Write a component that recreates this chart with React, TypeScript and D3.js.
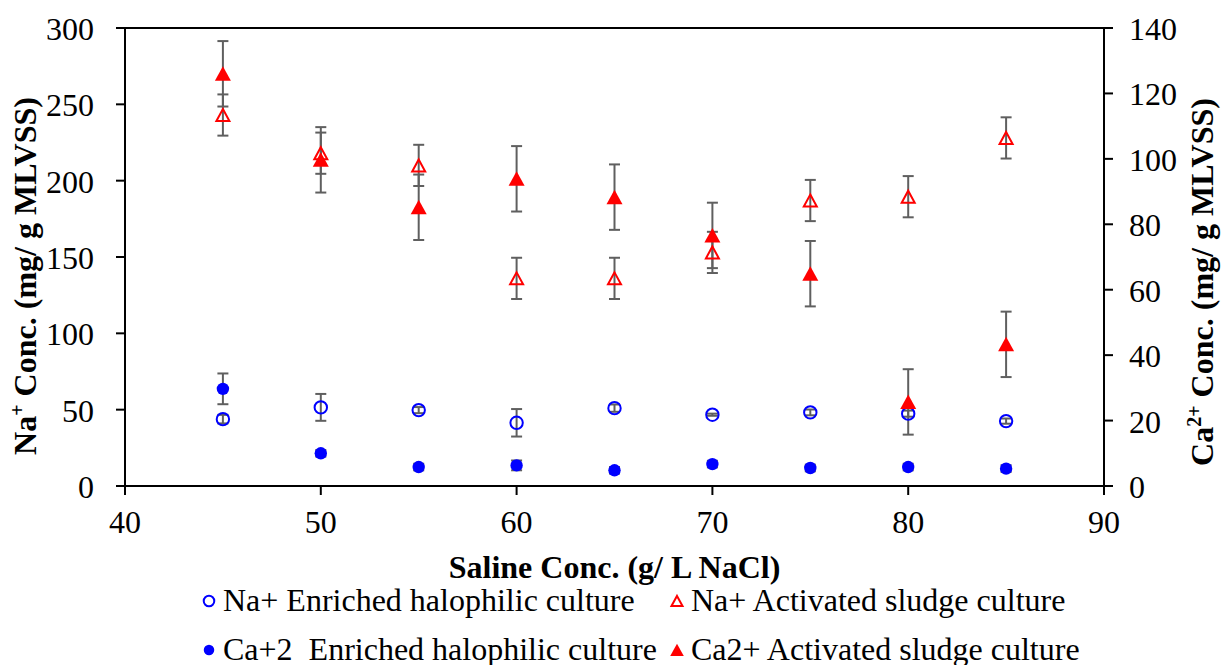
import React from "react";
import * as d3 from "d3";

const saline = [45, 50, 55, 60, 65, 70, 75, 80, 85];
const naEnriched = [43.8, 51.5, 49.7, 41.4, 51, 46.7, 48.2, 47.4, 42.5];
const naEnrichedErr = [2.8, 8.8, 2, 9, 2.4, 0.7, 1.9, 2, 1.7];
const naSludge = [243, 218, 210, 136, 136, 153, 187, 189.5, 228];
const naSludgeErr = [13.5, 13.5, 13.5, 13.5, 13.5, 13.5, 13.5, 13.5, 13.5];
const caEnriched = [29.7, 10, 5.8, 6.3, 4.8, 6.7, 5.5, 5.8, 5.3];
const caEnrichedErr = [4.7, 1, 1, 1.5, 1, 1, 1, 1, 1];
const caSludge = [126, 99.7, 85.2, 93.9, 88.3, 76.6, 64.9, 25.7, 43.3];
const caSludgeErr = [10, 10, 10, 10, 10, 10, 10, 10, 10];

const xTicks = [40, 50, 60, 70, 80, 90];
const yLeftTicks = [0, 50, 100, 150, 200, 250, 300];
const yRightTicks = [0, 20, 40, 60, 80, 100, 120, 140];

const legendItems = [
  { label: "Na+ Enriched halophilic culture", shape: "circle", filled: false, color: "#0000FF", col: 0, row: 0 },
  { label: "Na+ Activated sludge culture", shape: "triangle", filled: false, color: "#FF0000", col: 1, row: 0 },
  { label: "Ca+2  Enriched halophilic culture", shape: "circle", filled: true, color: "#0000FF", col: 0, row: 1 },
  { label: "Ca2+ Activated sludge culture", shape: "triangle", filled: true, color: "#FF0000", col: 1, row: 1 },
];

const W = 1223;
const H = 665;
const L = 125;
const R = 1104;
const T = 28;
const B = 486;
const FONT = "'Times New Roman', 'Liberation Serif', serif";
const ERR = "#5f5f5f";

const x = d3.scaleLinear().domain([40, 90]).range([L, R]);
const yL = d3.scaleLinear().domain([0, 300]).range([B, T]);
const yR = d3.scaleLinear().domain([0, 140]).range([B, T]);

function Marker({ shape, filled, color, cx, cy, s = 1 }: any) {
  if (shape === "circle") {
    return filled ? (
      <circle cx={cx} cy={cy} r={6.2 * s} fill={color} />
    ) : (
      <circle cx={cx} cy={cy} r={6.2 * s} fill="none" stroke={color} strokeWidth={2} />
    );
  }
  const sym = filled
    ? `M${cx},${cy - 7.5 * s}L${cx + 8 * s},${cy + 7 * s}L${cx - 8 * s},${cy + 7 * s}Z`
    : `M${cx},${cy - 6 * s}L${cx + 6.5 * s},${cy + 6 * s}L${cx - 6.5 * s},${cy + 6 * s}Z`;
  return filled ? (
    <path d={sym} fill={color} />
  ) : (
    <path d={sym} fill="none" stroke={color} strokeWidth={2} strokeLinejoin="miter" />
  );
}

export default function App() {
  const series = [
    { vals: naEnriched, errs: naEnrichedErr, y: yL, shape: "circle", filled: false, color: "#0000FF" },
    { vals: naSludge, errs: naSludgeErr, y: yL, shape: "triangle", filled: false, color: "#FF0000" },
    { vals: caEnriched, errs: caEnrichedErr, y: yR, shape: "circle", filled: true, color: "#0000FF" },
    { vals: caSludge, errs: caSludgeErr, y: yR, shape: "triangle", filled: true, color: "#FF0000" },
  ];

  return (
    <svg
      width={W}
      height={H}
      style={{ position: "absolute", left: 0, top: 0, background: "#fff" }}
      fontFamily={FONT}
    >
      <rect x={0} y={0} width={W} height={H} fill="#fff" />
      <rect x={L} y={T} width={R - L} height={B - T} fill="none" stroke="#000" strokeWidth={2} />

      {xTicks.map((t) => (
        <g key={"x" + t}>
          <line x1={x(t)} x2={x(t)} y1={B} y2={B + 9} stroke="#000" strokeWidth={2} />
          <text x={x(t)} y={B + 47} fontSize={32} textAnchor="middle" fill="#000">
            {t}
          </text>
        </g>
      ))}
      {yLeftTicks.map((t) => (
        <g key={"yl" + t}>
          <line x1={L - 9} x2={L} y1={yL(t)} y2={yL(t)} stroke="#000" strokeWidth={2} />
          <text x={94} y={yL(t) + 12} fontSize={32} textAnchor="end" fill="#000">
            {t}
          </text>
        </g>
      ))}
      {yRightTicks.map((t) => (
        <g key={"yr" + t}>
          <line x1={R} x2={R + 9} y1={yR(t)} y2={yR(t)} stroke="#000" strokeWidth={2} />
          <text x={1129} y={yR(t) + 12} fontSize={32} textAnchor="start" fill="#000">
            {t}
          </text>
        </g>
      ))}

      <text x={(L + R) / 2} y={578} fontSize={32} fontWeight="bold" textAnchor="middle" fill="#000">
        Saline Conc. (g/ L NaCl)
      </text>
      <text
        transform={`translate(36,276) rotate(-90)`}
        fontSize={32}
        fontWeight="bold"
        textAnchor="middle"
        fill="#000"
      >
        Na<tspan fontSize={20} dy={-12}>+</tspan>
        <tspan dy={12}> Conc. (mg/ g MLVSS)</tspan>
      </text>
      <text
        transform={`translate(1213,282) rotate(-90)`}
        fontSize={32}
        fontWeight="bold"
        textAnchor="middle"
        fill="#000"
      >
        Ca<tspan fontSize={20} dy={-12}>2+</tspan>
        <tspan dy={12}> Conc. (mg/ g MLVSS)</tspan>
      </text>

      {series.map((s, si) =>
        saline.map((xv, i) => {
          const cx = x(xv);
          const y1 = s.y(s.vals[i] + s.errs[i]);
          const y2 = s.y(s.vals[i] - s.errs[i]);
          return (
            <g key={`e${si}-${i}`} stroke={ERR} strokeWidth={2}>
              <line x1={cx} x2={cx} y1={y1} y2={y2} />
              <line x1={cx - 5.5} x2={cx + 5.5} y1={y1} y2={y1} />
              <line x1={cx - 5.5} x2={cx + 5.5} y1={y2} y2={y2} />
            </g>
          );
        })
      )}
      {series.map((s, si) =>
        saline.map((xv, i) => (
          <Marker
            key={`m${si}-${i}`}
            shape={s.shape}
            filled={s.filled}
            color={s.color}
            cx={x(xv)}
            cy={s.y(s.vals[i])}
          />
        ))
      )}

      {legendItems.map((it) => {
        const mx = it.col === 0 ? 209 : 677;
        const my = it.row === 0 ? 601 : 650;
        return (
          <g key={it.label}>
            <Marker shape={it.shape} filled={it.filled} color={it.color} cx={mx} cy={my} s={0.85} />
            <text x={mx + 14} y={my + 10} fontSize={32} fill="#000" style={{ whiteSpace: "pre" }} xmlSpace="preserve">
              {it.label}
            </text>
          </g>
        );
      })}
    </svg>
  );
}
